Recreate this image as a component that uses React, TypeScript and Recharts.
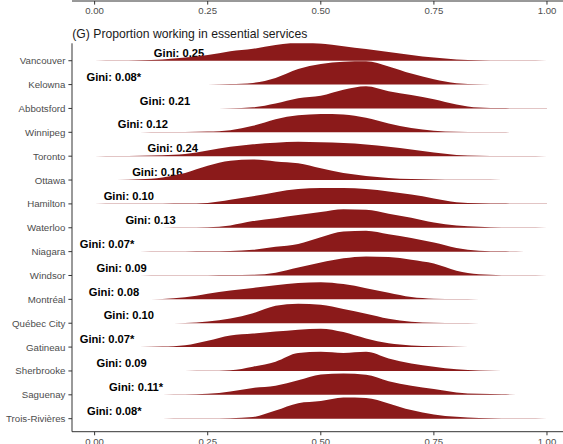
import { ComposedChart, Area, Scatter, XAxis, YAxis } from 'recharts'

const cities = [
  'Vancouver', 'Kelowna', 'Abbotsford', 'Winnipeg', 'Toronto', 'Ottawa', 'Hamilton', 'Waterloo',
  'Niagara', 'Windsor', 'Montréal', 'Québec City', 'Gatineau', 'Sherbrooke', 'Saguenay', 'Trois-Rivières',
]
const gini = [0.25, 0.08, 0.21, 0.12, 0.24, 0.16, 0.10, 0.13, 0.07, 0.09, 0.08, 0.10, 0.07, 0.09, 0.11, 0.08]
const starred = [false, true, false, false, false, false, false, false, true, false, false, false, true, false, true, true]
// where each Gini label starts, in x units
const giniX = [0.131, -0.018, 0.1, 0.051, 0.117, 0.083, 0.02, 0.068, -0.033, 0.004, -0.013, 0.02, -0.033, 0.004, 0.032, -0.017]

const xTicks = [0, 0.25, 0.5, 0.75, 1]
const xGrid = [0, 0.05, 0.1, 0.15, 0.2, 0.25, 0.3, 0.35, 0.4, 0.45, 0.5, 0.55, 0.6, 0.65, 0.7, 0.75, 0.8, 0.85, 0.9, 0.95, 1]

// scaled density height of each ridge at xGrid (1 = one row)
const vancouver = [0, 0.01, 0.02, 0.05, 0.13, 0.24, 0.4, 0.5, 0.66, 0.76, 0.72, 0.61, 0.49, 0.37, 0.24, 0.13, 0.05, 0.02, 0.01, 0.005, 0]
const kelowna = [null, null, null, null, 0, 0.005, 0.02, 0.07, 0.28, 0.65, 0.86, 0.96, 0.98, 0.76, 0.46, 0.22, 0.06, 0.015, 0, null, null]
const abbotsford = [null, null, null, null, null, 0, 0.01, 0.05, 0.21, 0.43, 0.53, 0.78, 0.93, 0.72, 0.56, 0.39, 0.17, 0.04, 0.015, 0.01, 0.005]
const winnipeg = [null, 0, 0.005, 0.01, 0.015, 0.03, 0.09, 0.27, 0.55, 0.71, 0.77, 0.75, 0.61, 0.37, 0.18, 0.07, 0.025, 0.012, 0.008, 0.005, 0]
const toronto = [0, 0.01, 0.02, 0.04, 0.09, 0.24, 0.39, 0.5, 0.56, 0.6, 0.58, 0.55, 0.49, 0.39, 0.28, 0.15, 0.05, 0.02, 0.01, 0.005, 0]
const ottawa = [null, 0, 0.03, 0.11, 0.3, 0.6, 0.81, 0.86, 0.78, 0.7, 0.49, 0.29, 0.17, 0.09, 0.04, 0.02, 0.01, 0.008, 0.005, 0, null]
const hamilton = [0, 0.005, 0.008, 0.01, 0.015, 0.04, 0.17, 0.32, 0.49, 0.62, 0.67, 0.67, 0.62, 0.52, 0.39, 0.23, 0.07, 0.025, 0.012, 0.008, 0.005]
const waterloo = [null, null, 0, 0.005, 0.01, 0.02, 0.1, 0.28, 0.4, 0.53, 0.66, 0.78, 0.75, 0.59, 0.42, 0.22, 0.1, 0.04, 0.015, 0.008, 0]
const niagara = [null, null, 0, 0.005, 0.01, 0.015, 0.03, 0.08, 0.2, 0.32, 0.6, 0.84, 0.88, 0.73, 0.57, 0.38, 0.15, 0.04, 0.012, 0, null]
const windsor = [null, 0, 0.005, 0.008, 0.01, 0.015, 0.02, 0.03, 0.12, 0.33, 0.54, 0.72, 0.8, 0.77, 0.66, 0.5, 0.2, 0.05, 0.015, 0.008, 0.003]
const montreal = [null, null, 0, 0.02, 0.09, 0.24, 0.37, 0.48, 0.59, 0.69, 0.72, 0.64, 0.47, 0.28, 0.1, 0.03, 0.012, 0.008, 0.005, 0.003, 0]
const quebecCity = [null, null, null, 0, 0.01, 0.07, 0.2, 0.42, 0.73, 0.82, 0.77, 0.6, 0.4, 0.19, 0.06, 0.02, 0.005, 0, null, null, null]
const gatineau = [null, null, 0, 0.02, 0.08, 0.27, 0.49, 0.57, 0.65, 0.73, 0.77, 0.63, 0.36, 0.16, 0.07, 0.03, 0.01, 0, null, null, null]
const sherbrooke = [null, null, null, null, 0, 0.005, 0.03, 0.18, 0.39, 0.75, 0.8, 0.75, 0.8, 0.52, 0.31, 0.18, 0.07, 0.02, 0, null, null]
const saguenay = [null, null, 0, 0.005, 0.01, 0.04, 0.14, 0.29, 0.38, 0.61, 0.85, 0.89, 0.84, 0.57, 0.38, 0.24, 0.1, 0.04, 0.02, 0, null]
const troisRivieres = [null, null, null, 0, 0.005, 0.01, 0.02, 0.07, 0.34, 0.65, 0.74, 0.89, 0.87, 0.64, 0.36, 0.18, 0.08, 0.025, 0.01, 0.005, 0]

const ridges = [
  vancouver, kelowna, abbotsford, winnipeg, toronto, ottawa, hamilton, waterloo,
  niagara, windsor, montreal, quebecCity, gatineau, sherbrooke, saguenay, troisRivieres,
]

const FILL = '#8B1A1A'
const AXIS = '#333333'
const TICK_TEXT = '#4D4D4D'
const FONT = '"Liberation Sans", Arial, Helvetica, sans-serif'
const TOP = cities.length - 1
const X_DOMAIN = [-0.05, 1.05]
const Y_DOMAIN = [-0.545, TOP + 0.73]
const W = 580
const H = 461.7
const PANEL_MARGIN = { top: 43.3, right: 10.4, left: 0, bottom: 0 }

// each ridge sits on its own baseline; value is [baseline, baseline + height]
const table = xGrid.map((x, j) => {
  const row: Record<string, any> = { x }
  ridges.forEach((r, i) => {
    const h = r[j]
    const base = TOP - i
    row['r' + i] = h == null ? null : [base, base + h]
  })
  return row
})

const labels = cities.map((c, i) => ({
  x: giniX[i],
  y: TOP - i + 0.33,
  text: `Gini: ${gini[i].toFixed(2)}${starred[i] ? '*' : ''}`,
}))

const GiniLabel = (props: any) => (
  <text
    x={props.cx}
    y={props.cy}
    dy="0.36em"
    fontFamily={FONT}
    fontSize={11.2}
    fontWeight="bold"
    fill="#000"
  >
    {props.payload.text}
  </text>
)

// city names on one line, right-aligned against the tick marks
const CityTick = (props: any) => (
  <text x={props.x} y={props.y} dy="0.36em" textAnchor="end" fontFamily={FONT} fontSize={9.7} fill={TICK_TEXT}>
    {cities[TOP - props.payload.value]}
  </text>
)

const tickStyle = { fontSize: 9.6, fill: TICK_TEXT, fontFamily: FONT }
const fmt = (v: number) => v.toFixed(2)

export default function App() {
  return (
    <div style={{ position: 'fixed', left: 0, top: 0, width: 563, height: 444, overflow: 'hidden', background: '#fff' }}>
      {/* bottom axis of the panel above */}
      <div style={{ position: 'absolute', left: 0, top: -4.3 }}>
        <ComposedChart width={W} height={30} data={table} margin={{ top: 0, right: 10.4, left: 72, bottom: 0 }}>
          <XAxis
            type="number"
            dataKey="x"
            domain={X_DOMAIN}
            ticks={xTicks}
            tickFormatter={fmt}
            allowDataOverflow
            height={25}
            tickSize={3.6}
            tickMargin={3}
            tick={tickStyle}
            axisLine={{ stroke: AXIS, strokeWidth: 1 }}
            tickLine={{ stroke: AXIS }}
          />
          <YAxis hide domain={[0, 1]} />
        </ComposedChart>
      </div>

      <svg width={563} height={45} style={{ position: 'absolute', left: 0, top: 0 }}>
        <text x={72.3} y={38} fontFamily={FONT} fontSize={12.2} fill="#1A1A1A">
          (G) Proportion working in essential services
        </text>
      </svg>

      {/* Gini labels sit underneath the ridges */}
      <div style={{ position: 'absolute', left: 0, top: 0 }}>
        <ComposedChart width={W} height={H} data={labels} margin={{ ...PANEL_MARGIN, left: 72, bottom: 30 }}>
          <XAxis hide type="number" dataKey="x" domain={X_DOMAIN} allowDataOverflow />
          <YAxis hide type="number" domain={Y_DOMAIN} allowDataOverflow />
          <Scatter dataKey="y" shape={GiniLabel} isAnimationActive={false} />
        </ComposedChart>
      </div>

      <div style={{ position: 'absolute', left: 0, top: 0 }}>
        <ComposedChart width={W} height={H} data={table} margin={PANEL_MARGIN}>
          <XAxis
            type="number"
            dataKey="x"
            domain={X_DOMAIN}
            ticks={xTicks}
            tickFormatter={fmt}
            allowDataOverflow
            height={30}
            tickSize={3.6}
            tickMargin={3}
            tick={tickStyle}
            axisLine={{ stroke: AXIS, strokeWidth: 1 }}
            tickLine={{ stroke: AXIS }}
          />
          <YAxis
            type="number"
            domain={Y_DOMAIN}
            ticks={cities.map((c, i) => i)}
            allowDataOverflow
            width={72}
            tickSize={3.6}
            tickMargin={3}
            tick={CityTick}
            axisLine={{ stroke: AXIS, strokeWidth: 1 }}
            tickLine={{ stroke: AXIS }}
          />
          {cities.map((c, i) => (
            <Area
              key={c}
              dataKey={'r' + i}
              type="monotone"
              fill={FILL}
              fillOpacity={1}
              stroke="none"
              isAnimationActive={false}
              dot={false}
              activeDot={false}
            />
          ))}
        </ComposedChart>
      </div>
    </div>
  )
}
